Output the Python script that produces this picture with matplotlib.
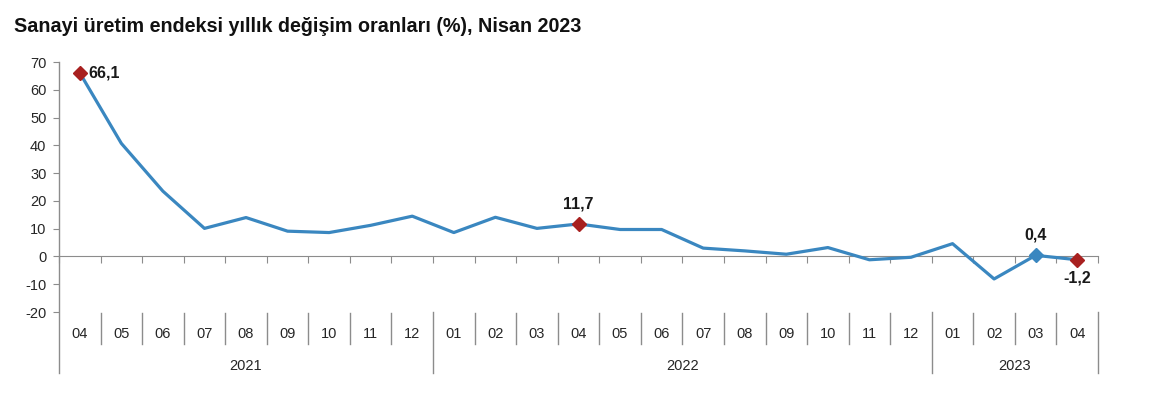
import matplotlib
matplotlib.use("Agg")
import matplotlib.pyplot as plt

plt.rcParams['font.family'] = ['Liberation Sans', 'DejaVu Sans']

months = ["04", "05", "06", "07", "08", "09", "10", "11", "12",
          "01", "02", "03", "04", "05", "06", "07", "08", "09", "10", "11", "12",
          "01", "02", "03", "04"]
years = ["2021", "2022", "2023"]
year_counts = [9, 12, 4]
values = [66.1, 40.7, 23.5, 10.1, 14.0, 9.1, 8.6, 11.2, 14.5,
          8.6, 14.1, 10.1, 11.7, 9.7, 9.7, 3.0, 2.0, 0.8, 3.2, -1.2, -0.3,
          4.6, -8.1, 0.4, -1.2]
yticks = [-20, -10, 0, 10, 20, 30, 40, 50, 60, 70]
title = "Sanayi üretim endeksi yıllık değişim oranları (%), Nisan 2023"

line_color = "#3a87c0"
red = "#a8201f"
gray = "#8c8c8c"
txt = "#262626"
lab_fs = 10.5

fig = plt.figure(figsize=(11.49, 4.2), dpi=100)
ax = fig.add_axes([59/1149, 1-312/420, (1098-59)/1149, 250/420])

x = list(range(len(values)))
ax.plot(x, values, color=line_color, lw=2.3, zorder=3)

red_idx = [0, 12, 24]
ax.plot([x[i] for i in red_idx], [values[i] for i in red_idx], ls='none',
        marker='D', ms=7.5, color=red, zorder=4)
ax.plot([x[23]], [values[23]], ls='none', marker='D', ms=7.5, color=line_color, zorder=4)

def fmt(v):
    return f"{v:.1f}".replace(".", ",")

ann = dict(fontsize=11.5, fontweight='bold', color='#1a1a1a', textcoords='offset points')
ax.annotate(fmt(values[0]), (x[0], values[0]), xytext=(6, 0), ha='left', va='center', **ann)
ax.annotate(fmt(values[12]), (x[12], values[12]), xytext=(0, 9), ha='center', va='bottom', **ann)
ax.annotate(fmt(values[23]), (x[23], values[23]), xytext=(0, 9), ha='center', va='bottom', **ann)
ax.annotate(fmt(values[24]), (x[24], values[24]), xytext=(0, -8), ha='center', va='top', **ann)

ax.set_xlim(-0.5, len(values) - 0.5)
ax.set_ylim(-20, 70)
ax.set_yticks(yticks)
ax.set_yticklabels([str(t) for t in yticks], fontsize=lab_fs, color=txt)
ax.tick_params(axis='y', length=4, color=gray, pad=5)

for s in ['top', 'right']:
    ax.spines[s].set_visible(False)
ax.spines['bottom'].set_position(('data', 0))
ax.spines['bottom'].set_color(gray)
ax.spines['left'].set_visible(False)

bounds = [i - 0.5 for i in range(len(values) + 1)]
ax.set_xticks(bounds)
ax.set_xticklabels([])
ax.tick_params(axis='x', direction='out', length=5, color=gray)

# left spine extended through category table
trans = ax.get_xaxis_transform()
px = 1 / 250  # axes fraction per pixel vertically
ax.plot([-0.5, -0.5], [1.0, -61*px], transform=trans, color=gray, lw=1, clip_on=False)

# category table
year_bounds = [-0.5]
acc = -0.5
for c in year_counts:
    acc += c
    year_bounds.append(acc)
for b in bounds:
    if b in year_bounds:
        if b != -0.5:
            ax.plot([b, b], [0, -61*px], transform=trans, color=gray, lw=1, clip_on=False)
    else:
        ax.plot([b, b], [-1*px, -32*px], transform=trans, color=gray, lw=1, clip_on=False)

for i, m in enumerate(months):
    ax.text(x[i], -22*px, m, transform=trans, ha='center', va='center', fontsize=lab_fs, color=txt)

start = -0.5
for yname, c in zip(years, year_counts):
    ax.text(start + c / 2, -54*px, yname, transform=trans, ha='center', va='center',
            fontsize=lab_fs, color=txt)
    start += c

fig.text(14/1149, 1-27/420, title, ha='left', va='center', fontsize=14.2, fontweight='bold',
         color='#111111')

fig.savefig("out.png", dpi=100)
